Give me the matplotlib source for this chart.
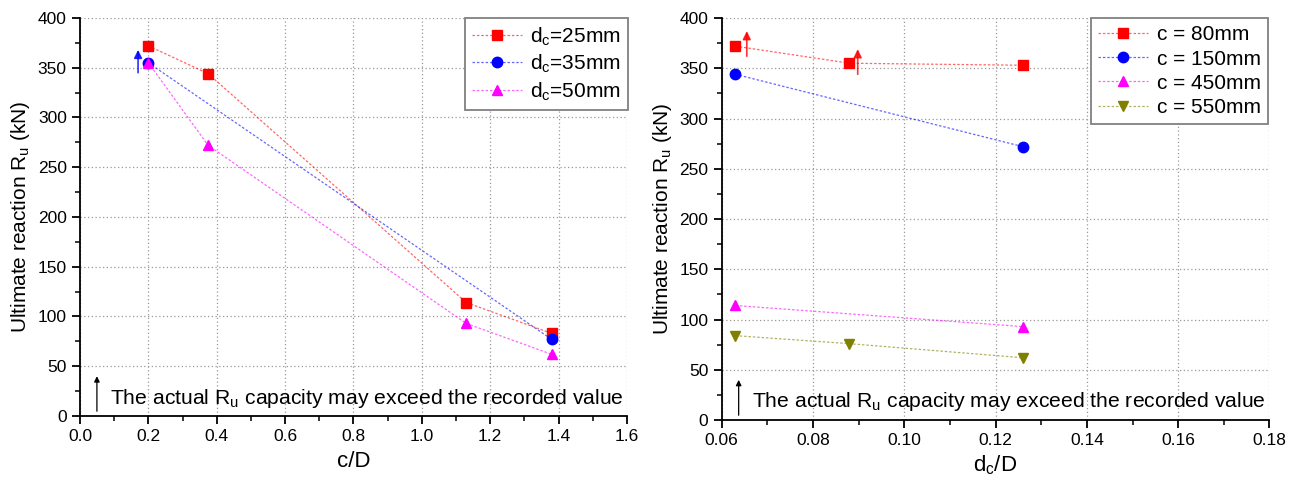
import numpy as np
import matplotlib
matplotlib.use('Agg')
import matplotlib.pyplot as plt
from matplotlib.ticker import MultipleLocator
from matplotlib.colors import to_rgba

plt.rcParams['font.family'] = ['Liberation Sans', 'DejaVu Sans']
plt.rcParams['mathtext.fontset'] = 'custom'
plt.rcParams['mathtext.rm'] = 'Liberation Sans'
plt.rcParams['mathtext.it'] = 'Liberation Sans'

# ---- left panel: Ru vs c/D ----
cD_25 = [0.2, 0.375, 1.13, 1.38]
Ru_25 = [372, 344, 114, 83]
cD_35 = [0.2, 1.38]
Ru_35 = [355, 77]
cD_50 = [0.2, 0.375, 1.13, 1.38]
Ru_50 = [355, 272, 93, 62]
left_labels = ['d$_\\mathregular{c}$=25mm', 'd$_\\mathregular{c}$=35mm', 'd$_\\mathregular{c}$=50mm']

# ---- right panel: Ru vs dc/D ----
dD_80 = [0.063, 0.088, 0.126]
Ru_80 = [372, 355, 353]
dD_150 = [0.063, 0.126]
Ru_150 = [344, 272]
dD_450 = [0.063, 0.126]
Ru_450 = [114, 93]
dD_550 = [0.063, 0.088, 0.126]
Ru_550 = [84, 76, 62]
right_labels = ['c = 80mm', 'c = 150mm', 'c = 450mm', 'c = 550mm']

# arrows (x, y start, y end) marking values that may be exceeded
left_arrows = [(0.2, 378, 402, 'red'), (0.17, 345, 368, 'blue')]
right_arrows = [(0.0655, 362, 387, 'red'), (0.0898, 344, 369, 'red')]

fig = plt.figure(figsize=(12.98, 4.79), dpi=100)
ax1 = fig.add_axes([0.0616, 0.1315, 0.4214, 0.831])
ax2 = fig.add_axes([0.556, 0.123, 0.422, 0.8394])


def series(ax, x, y, col, mk, lab):
    ax.plot(x, y, color=to_rgba(col, 0.6), marker=mk, markerfacecolor=col,
            markeredgecolor=col, linestyle=(0, (2, 1.5)), linewidth=0.9,
            markersize=7.5, label=lab)


series(ax1, cD_25, Ru_25, 'red', 's', left_labels[0])
series(ax1, cD_35, Ru_35, 'blue', 'o', left_labels[1])
series(ax1, cD_50, Ru_50, 'magenta', '^', left_labels[2])

series(ax2, dD_80, Ru_80, 'red', 's', right_labels[0])
series(ax2, dD_150, Ru_150, 'blue', 'o', right_labels[1])
series(ax2, dD_450, Ru_450, 'magenta', '^', right_labels[2])
series(ax2, dD_550, Ru_550, '#808000', 'v', right_labels[3])

for ax, arrows in [(ax1, left_arrows), (ax2, right_arrows)]:
    for x, y0, y1, col in arrows:
        ax.annotate('', xy=(x, y1), xytext=(x, y0),
                    arrowprops=dict(arrowstyle='-|>', color=col, lw=1.2, alpha=0.8,
                                    mutation_scale=12, shrinkA=0, shrinkB=0))

ax1.set_xlim(0, 1.6)
ax1.set_ylim(0, 400)
ax1.xaxis.set_major_locator(MultipleLocator(0.2))
ax1.xaxis.set_minor_locator(MultipleLocator(0.1))
ax1.set_xlabel('c/D', fontsize=16, labelpad=5)

ax2.set_xlim(0.06, 0.18)
ax2.set_ylim(0, 400)
ax2.xaxis.set_major_locator(MultipleLocator(0.02))
ax2.xaxis.set_minor_locator(MultipleLocator(0.01))
ax2.set_xlabel('d$_\\mathregular{c}$/D', fontsize=16, labelpad=4)

for ax in (ax1, ax2):
    ax.yaxis.set_major_locator(MultipleLocator(50))
    ax.yaxis.set_minor_locator(MultipleLocator(25))
    ax.set_ylabel('Ultimate reaction R$_\\mathregular{u}$ (kN)', fontsize=15, labelpad=4)
    ax.spines['top'].set_visible(False)
    ax.spines['right'].set_visible(False)
    ax.spines['left'].set_linewidth(1.3)
    ax.spines['bottom'].set_linewidth(1.3)
    ax.tick_params(which='major', direction='out', length=6, width=1.3, labelsize=12.5)
    ax.tick_params(which='minor', direction='out', length=3.5, width=1.1)
    ax.grid(True, which='major', linestyle=(0, (1, 2)), color='#999999', linewidth=0.9)
    ax.set_axisbelow(True)
    # note at the bottom
    ax.annotate('', xy=(0.031, 0.1), xytext=(0.031, 0.012), xycoords='axes fraction',
                arrowprops=dict(arrowstyle='-|>', color='black', lw=0.9,
                                mutation_scale=8, shrinkA=0, shrinkB=0))
    ax.text(0.055, 0.045, 'The actual R$_\\mathregular{u}$ capacity may exceed the recorded value',
            transform=ax.transAxes, fontsize=15.2, va='center', ha='left')

leg_kw = dict(loc='upper right', fontsize=15, fancybox=False, framealpha=1,
              edgecolor='#808080', handlelength=2.4, borderpad=0.35, borderaxespad=0,
              labelspacing=0.25, handletextpad=0.4)
leg1 = ax1.legend(bbox_to_anchor=(1.002, 1.0), **leg_kw)
leg2 = ax2.legend(bbox_to_anchor=(0.997, 1.0), **leg_kw)
for leg in (leg1, leg2):
    leg.get_frame().set_linewidth(1.3)

fig.savefig('out.png', dpi=100)
